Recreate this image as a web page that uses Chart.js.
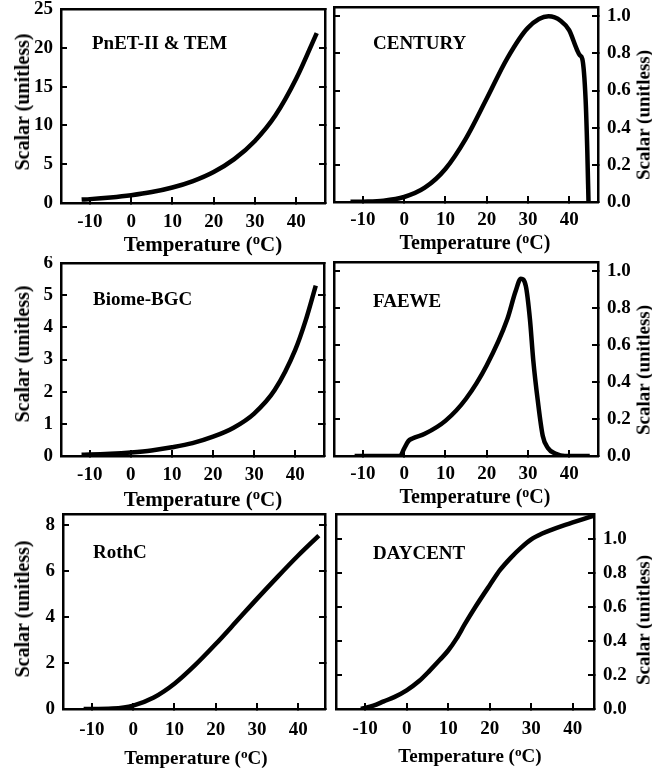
<!DOCTYPE html>
<html>
<head>
<meta charset="utf-8">
<title>Temperature scalars</title>
<script src="https://cdn.jsdelivr.net/npm/chart.js@4.4.1/dist/chart.umd.min.js"></script>
<style>
  html, body { margin: 0; padding: 0; background: #fff; }
  #fig { position: relative; width: 652px; height: 772px; overflow: hidden;
         font-family: 'Liberation Serif', 'Times New Roman', serif; font-weight: bold; color: #000; }
  #fig canvas { position: absolute; }
  .lbl { position: absolute; white-space: nowrap; line-height: 1; }
  .ytitle { transform: translate(-50%, -50%) rotate(-90deg); }
  .xtitle { transform: translate(-50%, -50%); }
  .name { transform: translate(0, -50%); }
  .lbl sup { font-size: 0.7em; vertical-align: baseline; position: relative; top: -0.45em; }
</style>
</head>
<body>
<div id="fig"></div>
<script>
// temperature (oC) and scalar values
const pnetTemp = [-12, -10, -5, 0, 5, 10, 15, 20, 25, 30, 35, 40, 45];
const pnetScalar = [0.44, 0.5, 0.71, 1.0, 1.41, 2.0, 2.83, 4.0, 5.66, 8.0, 11.3, 16.0, 21.9];

const centuryTemp = [-13, -10, -5, 0, 5, 10, 15, 20, 25, 30, 35, 38, 40, 41.9, 42.6, 43.2, 44.0, 44.4, 44.7];
const centuryScalar = [0.001, 0.002, 0.007, 0.027, 0.077, 0.178, 0.343, 0.556, 0.774, 0.938, 1.0, 0.975, 0.925, 0.82, 0.79, 0.77, 0.55, 0.28, 0.0];

const biomeTemp = [-12, -10, -5, 0, 5, 10, 15, 20, 25, 30, 35, 40, 42.5, 45];
const biomeScalar = [0.04, 0.045, 0.07, 0.11, 0.17, 0.27, 0.4, 0.6, 0.88, 1.32, 2.05, 3.3, 4.2, 5.3];

const faeweTemp = [-12, -5, -1, 0, 1, 2, 5, 10, 15, 20, 25, 27, 28.3, 29.5, 30.5, 31.3, 32.4, 33.6, 34.8, 36.8, 39, 45];
const faeweScalar = [0, 0, 0, 0.04, 0.08, 0.095, 0.12, 0.19, 0.31, 0.49, 0.74, 0.89, 0.96, 0.92, 0.74, 0.52, 0.30, 0.11, 0.045, 0.012, 0, 0];

const rothTemp = [-12, -10, -5, 0, 5, 10, 15, 20, 25, 30, 35, 40, 45];
const rothScalar = [0.0, 0.0, 0.02, 0.15, 0.5, 1.1, 1.91, 2.83, 3.81, 4.8, 5.76, 6.69, 7.56];

const daycentTemp = [-11, -8, -5.5, -3, 0, 3, 5.5, 8, 10, 12, 14, 16.5, 20, 22.5, 25, 27.5, 30, 32.5, 35, 37.5, 40, 42.5, 45];
const daycentScalar = [0.0, 0.02, 0.045, 0.07, 0.11, 0.165, 0.225, 0.29, 0.345, 0.415, 0.5, 0.6, 0.73, 0.82, 0.89, 0.95, 1.0, 1.033, 1.058, 1.08, 1.10, 1.12, 1.14];

const xTitle = 'Temperature (<sup>o</sup>C)';
const yTitle = 'Scalar (unitless)';

Chart.defaults.font.family = "'Liberation Serif', 'Times New Roman', serif";
Chart.defaults.font.weight = 'bold';
Chart.defaults.font.size = 19;
Chart.defaults.color = '#000';

// layout of the six panels: canvas box [left, top, w, h], padding, axis sizes, label spots
const panels = [
  { name: 'PnET-II & TEM', temp: pnetTemp, scalar: pnetScalar, side: 'left',
    box: [0, 0, 330, 256], pad: [0, 5, 9], yW: 61, xH: 53, xPad: 14,
    xMax: 47, yMax: 25, yStep: 5, dec: 0,
    nameAt: [92, 42, 19], xTitleAt: [203, 244, 21], yTitleAt: [22, 102, 20] },
  { name: 'CENTURY', temp: centuryTemp, scalar: centuryScalar, side: 'right',
    box: [326, 0, 326, 256], pad: [8, 0, 7], yW: 54, xH: 54, xPad: 13,
    xMax: 47, yMax: 1.05, yStep: 0.2, dec: 1,
    nameAt: [373, 42, 19], xTitleAt: [475, 242, 20], yTitleAt: [643, 115, 19] },
  { name: 'Biome-BGC', temp: biomeTemp, scalar: biomeScalar, side: 'left',
    box: [0, 256, 330, 256], pad: [0, 6, 7], yW: 61, xH: 56, xPad: 14,
    xMax: 47, yMax: 6, yStep: 1, dec: 0,
    nameAt: [93, 298, 19], xTitleAt: [203, 499, 21], yTitleAt: [22, 354, 20] },
  { name: 'FAEWE', temp: faeweTemp, scalar: faeweScalar, side: 'right',
    box: [326, 256, 326, 256], pad: [8, 0, 6], yW: 54, xH: 56, xPad: 13,
    xMax: 47, yMax: 1.05, yStep: 0.2, dec: 1,
    nameAt: [373, 300, 19], xTitleAt: [475, 496, 20], yTitleAt: [643, 370, 19] },
  { name: 'RothC', temp: rothTemp, scalar: rothScalar, side: 'left',
    box: [0, 512, 330, 260], pad: [0, 5, 2], yW: 63, xH: 63, xPad: 16,
    xMax: 46.5, yMax: 8.5, yStep: 2, dec: 0,
    nameAt: [93, 551, 19], xTitleAt: [196, 757, 19], yTitleAt: [22, 609, 20] },
  { name: 'DAYCENT', temp: daycentTemp, scalar: daycentScalar, side: 'right',
    box: [326, 512, 326, 260], pad: [10, 0, 2], yW: 58, xH: 63, xPad: 15,
    xMax: 45.1, yMax: 1.15, yStep: 0.2, dec: 1,
    nameAt: [373, 552, 19], xTitleAt: [470, 755, 19], yTitleAt: [643, 620, 19] }
];

const fig = document.getElementById('fig');

function addLabel(html, cls, at) {
  const d = document.createElement('div');
  d.className = 'lbl ' + cls;
  d.innerHTML = html;
  d.style.left = at[0] + 'px';
  d.style.top = at[1] + 'px';
  d.style.fontSize = at[2] + 'px';
  fig.appendChild(d);
}

function makePanel(p) {
  const canvas = document.createElement('canvas');
  canvas.width = p.box[2];
  canvas.height = p.box[3];
  canvas.style.left = p.box[0] + 'px';
  canvas.style.top = p.box[1] + 'px';
  fig.appendChild(canvas);

  const onLeft = p.side === 'left';
  // inward tick marks, no grid lines
  const tickGrid = { drawOnChartArea: false, drawTicks: true, tickLength: -6, lineWidth: 2, color: '#000' };
  const border = { display: true, width: 2.5, color: '#000' };

  new Chart(canvas, {
    type: 'line',
    data: {
      datasets: [{
        data: p.temp.map((t, i) => ({ x: t, y: p.scalar[i] })),
        borderColor: '#000',
        borderWidth: 4.5,
        pointRadius: 0,
        fill: false,
        cubicInterpolationMode: 'monotone'
      }]
    },
    options: {
      responsive: false,
      animation: false,
      layout: { padding: { left: p.pad[0], right: p.pad[1], top: p.pad[2], bottom: 0 } },
      plugins: { legend: { display: false }, tooltip: { enabled: false } },
      scales: {
        x: {
          type: 'linear', position: 'bottom', min: -17, max: p.xMax,
          ticks: { stepSize: 10, includeBounds: false, padding: p.xPad, maxRotation: 0,
                   callback: v => v.toFixed(0) },
          grid: tickGrid, border,
          afterFit: s => { s.height = p.xH; s.paddingLeft = 0; s.paddingRight = 0; }
        },
        xTop: {
          type: 'linear', position: 'top', min: -17, max: p.xMax,
          ticks: { display: false }, grid: { display: false }, border,
          afterFit: s => { s.height = 0; s.paddingLeft = 0; s.paddingRight = 0; }
        },
        y: {
          type: 'linear', position: p.side, min: 0, max: p.yMax,
          ticks: { stepSize: p.yStep, includeBounds: false, padding: onLeft ? 14 : 15,
                   callback: v => v.toFixed(p.dec) },
          grid: tickGrid, border,
          afterFit: s => { s.width = p.yW; s.paddingTop = 0; s.paddingBottom = 0; }
        },
        yMirror: {
          type: 'linear', position: onLeft ? 'right' : 'left', min: 0, max: p.yMax,
          ticks: { display: false, stepSize: p.yStep, includeBounds: false },
          grid: tickGrid, border,
          afterFit: s => { s.width = 0; s.paddingTop = 0; s.paddingBottom = 0; }
        }
      }
    }
  });

  addLabel(p.name, 'name', p.nameAt);
  addLabel(xTitle, 'xtitle', p.xTitleAt);
  addLabel(yTitle, 'ytitle', p.yTitleAt);
}

panels.forEach(makePanel);
</script>
</body>
</html>
